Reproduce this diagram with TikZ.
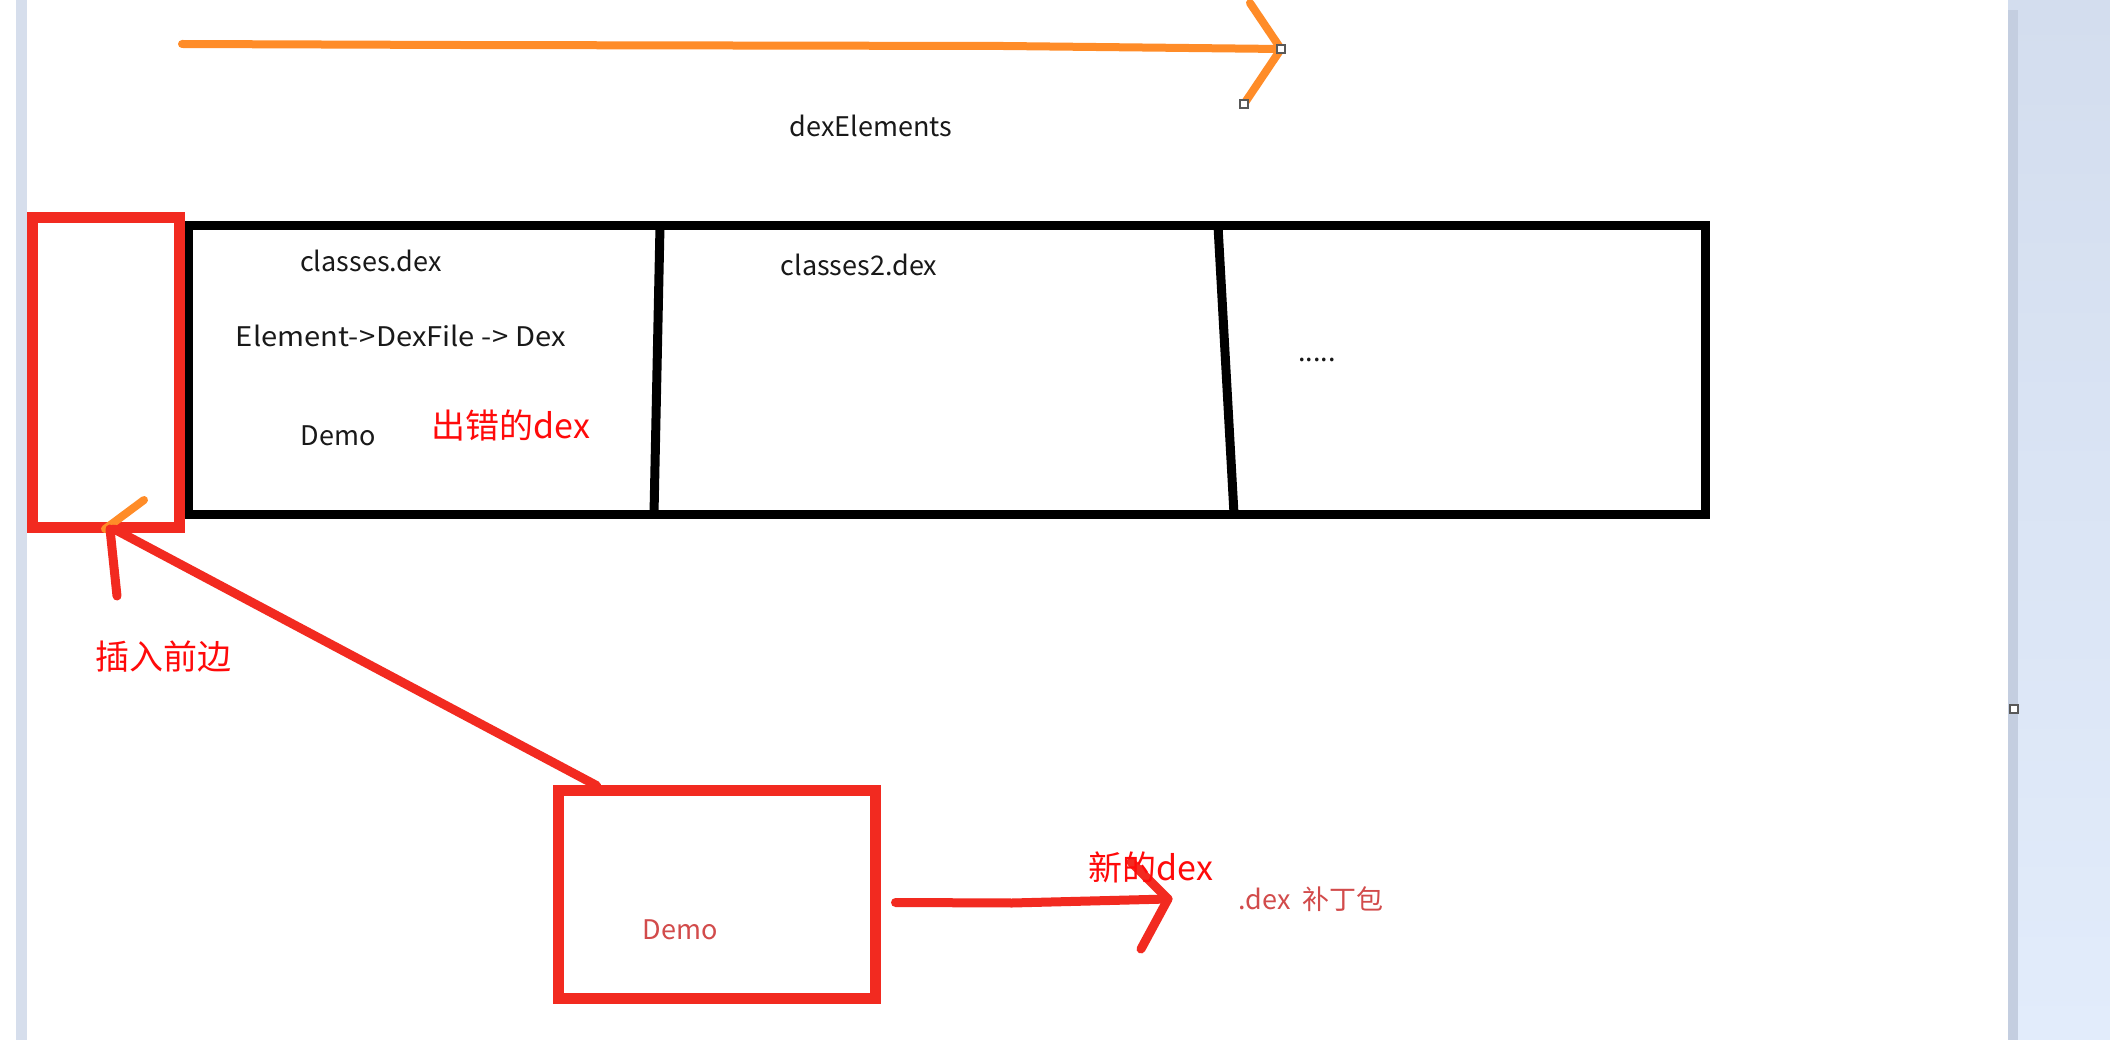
\documentclass[tikz,border=0pt]{standalone}
\usepackage{fontspec}
\setmainfont{Noto Sans CJK SC}
\usetikzlibrary{calc}
\definecolor{penred}{RGB}{242,42,32}
\definecolor{penorange}{RGB}{255,140,40}
\definecolor{txtred}{RGB}{255,10,10}
\definecolor{dimred}{RGB}{210,75,75}
\definecolor{panelA}{RGB}{211,221,238}
\definecolor{panelB}{RGB}{226,236,251}
\definecolor{paneledge}{RGB}{196,206,224}
\definecolor{stripc}{RGB}{214,222,236}
\tikzset{
  redbox/.style={draw=penred,line width=11pt,inner sep=0pt,outer sep=0pt},
  blackbox/.style={draw=black,line width=9pt,inner sep=0pt,outer sep=0pt},
  divider/.style={draw=black,line width=9pt},
  redpen/.style={draw=penred,line width=9pt,line cap=round,line join=round},
  orangepen/.style={draw=penorange,line width=8pt,line cap=round,line join=round},
  blacktxt/.style={text=black!90,font=\fontsize{27}{32}\selectfont,inner sep=0pt},
  redtxt/.style={text=txtred,font=\fontsize{34}{40}\selectfont,inner sep=0pt},
  dimtxt/.style={text=dimred,font=\fontsize{27}{32}\selectfont,inner sep=0pt},
  handle/.style={draw=black!65,fill=white,line width=1.5pt,minimum size=8pt,inner sep=0pt}
}
\begin{document}
\begin{tikzpicture}[x=1pt,y=-1pt]
\useasboundingbox (0,0) rectangle (2110,1040);
\fill[white] (0,0) rectangle (2110,1040);
% left strip and right panel (screen background)
\fill[stripc] (16,0) rectangle (27,1040);
\shade[top color=panelA,bottom color=panelB] (2008,0) rectangle (2110,1040);
\fill[paneledge] (2008,10) rectangle (2018,1040);

% top orange arrow
\coordinate (ostart) at (182,44);
\coordinate (omid1) at (458,45);
\coordinate (omid2) at (1003,46);
\coordinate (otip) at (1281,49);
\coordinate (oup) at (1250,3);
\coordinate (olow) at (1244,104);
\draw[orangepen] (ostart) -- (omid1) -- (omid2) -- (otip);
\draw[orangepen] (oup) -- (otip) -- (olow);
\node[handle] (h1) at (otip) {};
\node[handle] (h2) at (olow) {};
\node[handle] (h3) at (2014,709) {};
\node[blacktxt] (delab) at (871,126) {dexElements};

% dex elements array
\node[blackbox,minimum width=1517pt,minimum height=288pt] (arr) at (946.5,370) {};
\coordinate (d1t) at (660,226);
\coordinate (d1b) at (654,514);
\coordinate (d2t) at (1218,226);
\coordinate (d2b) at (1234,514);
\draw[divider] (d1t) -- (d1b);
\draw[divider] (d2t) -- (d2b);
\node[blacktxt] (c1) at (371,261) {classes.dex};
\node[blacktxt] (c2) at (401,336) {\scalebox{1.08}[1]{Element-\kern1pt>DexFile -\kern1pt> Dex}};
\node[blacktxt] (c3) at (338,436) {Demo};
\node[redtxt] (err) at (511,425) {出错的dex};
\node[blacktxt] (c4) at (859,265) {classes2.dex};
\node[blacktxt] (c5) at (1317,360) {.....};

% insertion slot
\node[redbox,minimum width=147pt,minimum height=309pt] (ins) at (105.5,372.5) {};
\coordinate (ostroke1) at (105,529);
\coordinate (ostroke2) at (144,500);
\draw[orangepen] (ostroke1) -- (ostroke2);
\coordinate (rstroke) at (117,596);
\draw[redpen] ($(ins.south west)+(78,2)$) -- (rstroke);
\node[redtxt] (inslab) at (163,657) {插入前边};

% new dex box
\node[redbox,minimum width=317pt,minimum height=208pt] (newbox) at (717,894.5) {};
\node[dimtxt] (demo2) at (680,930) {Demo};
\draw[redpen] ($(newbox.north west)+(38,-5)$) -- ($(ins.south west)+(82,2)$);

% patch arrow
\coordinate (ptip) at (1168,899);
\coordinate (pup) at (1131,862);
\coordinate (plow) at (1141,949);
\draw[redpen] ($(newbox.east)+(20,8)$) -- (1012,903) -- (ptip);
\draw[redpen] (pup) -- (ptip) -- (plow);
\node[redtxt] (newlab) at (1151,867) {新的dex};
\node[dimtxt] (patch) at (1311,899) {.dex\ \ 补丁包};
\end{tikzpicture}
\end{document}
